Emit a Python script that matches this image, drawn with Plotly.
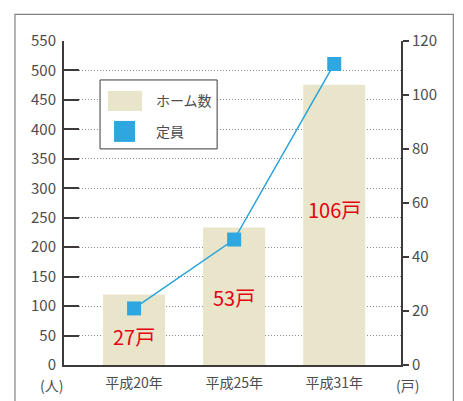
import plotly.graph_objects as go

# ---- data ----
categories = ["平成20年", "平成25年", "平成31年"]
home_counts = [26.1, 50.9, 103.8]          # bar heights (戸, right axis) as drawn
home_labels = ["27戸", "53戸", "106戸"]
capacity = [96, 213, 511]                  # 定員 (人, left axis)
left_ticks = list(range(0, 551, 50))
right_ticks = list(range(0, 121, 20))

FONT = "Noto Sans CJK JP"
DARK = "#3e3a39"
GRAY_TXT = "#4d4d4d"
BAR_COLOR = "#e8e5ca"
BLUE = "#2ea7e0"
RED = "#e60012"

W, H = 463, 401
L, R, T, B = 64, 62.3, 41, 35.7
pw = W - L - R
ph = H - T - B

def px(xp):
    return (xp - L) / pw

def py(yp):
    return (H - B - yp) / ph

xs = list(range(len(categories)))

fig = go.Figure()
# bars on primary y (right side, 戸)
fig.add_trace(go.Bar(
    x=xs, y=home_counts, yaxis="y", width=0.62,
    marker=dict(color=BAR_COLOR, line=dict(width=0)),
    name="ホーム数", showlegend=False, hoverinfo="skip",
))
# line on overlaying y2 (left side, 人) so it is drawn above the bars
fig.add_trace(go.Scatter(
    x=xs, y=capacity, yaxis="y2", mode="lines+markers",
    line=dict(color="#29a3dc", width=1.5),
    marker=dict(symbol="square", size=14, color=BLUE, line=dict(width=0)),
    name="定員", showlegend=False, hoverinfo="skip", cliponaxis=False,
))

# bar value labels
label_frac = [0.41, 0.49, 0.555]
for x, v, t, f in zip(xs, home_counts, home_labels, label_frac):
    fig.add_annotation(x=x, y=v * f, xref="x", yref="y", text=t, showarrow=False,
                       font=dict(family=FONT, size=20, color=RED),
                       xanchor="center", yanchor="middle")

# unit labels
fig.add_annotation(x=px(52), y=py(385), xref="paper", yref="paper", text="(人)",
                   showarrow=False, font=dict(family=FONT, size=14, color=GRAY_TXT),
                   xanchor="center", yanchor="middle")
fig.add_annotation(x=px(407), y=py(385), xref="paper", yref="paper", text="(戸)",
                   showarrow=False, font=dict(family=FONT, size=14, color=GRAY_TXT),
                   xanchor="center", yanchor="middle")

shapes = []
# outer frame
shapes.append(dict(type="rect", xref="paper", yref="paper",
                   x0=px(15), x1=px(453), y0=py(440), y1=py(14.3),
                   line=dict(color="#808080", width=1.2), fillcolor="rgba(0,0,0,0)",
                   layer="below"))
# legend box
shapes.append(dict(type="rect", xref="paper", yref="paper",
                   x0=px(100), x1=px(217), y0=py(149), y1=py(80),
                   line=dict(color=DARK, width=1), fillcolor="white", layer="above"))
shapes.append(dict(type="rect", xref="paper", yref="paper",
                   x0=px(108), x1=px(142), y0=py(111), y1=py(91),
                   line=dict(width=0), fillcolor=BAR_COLOR, layer="above"))
shapes.append(dict(type="rect", xref="paper", yref="paper",
                   x0=px(114), x1=px(135), y0=py(142), y1=py(121),
                   line=dict(width=0), fillcolor=BLUE, layer="above"))
fig.add_annotation(x=px(154), y=py(100.5), xref="paper", yref="paper", text="ホーム数",
                   showarrow=False, font=dict(family=FONT, size=14, color=GRAY_TXT),
                   xanchor="left", yanchor="middle")
fig.add_annotation(x=px(154), y=py(131.5), xref="paper", yref="paper", text="定員",
                   showarrow=False, font=dict(family=FONT, size=14, color=GRAY_TXT),
                   xanchor="left", yanchor="middle")

fig.update_layout(
    width=W, height=H,
    margin=dict(l=L, r=R, t=T, b=B, pad=0, autoexpand=False),
    paper_bgcolor="white", plot_bgcolor="white",
    font=dict(family=FONT, color=GRAY_TXT),
    showlegend=False,
    shapes=shapes,
    xaxis=dict(
        range=[-0.7, 2.667], tickvals=xs, ticktext=categories,
        showline=True, linecolor=DARK, linewidth=2, ticks="",
        showgrid=False, zeroline=False, fixedrange=True, automargin=False,
        tickfont=dict(family=FONT, size=14, color=GRAY_TXT),
        ticklabelstandoff=4,
    ),
    yaxis=dict(
        range=[0, 120], tickvals=right_ticks, side="right",
        ticks="outside", ticklen=6, tickwidth=2, tickcolor=DARK,
        showline=True, linecolor=DARK, linewidth=2, showgrid=False, zeroline=False,
        automargin=False,
        tickfont=dict(family=FONT, size=15, color=GRAY_TXT),
        ticklabelstandoff=0,
    ),
    yaxis2=dict(
        range=[0, 550], tickvals=left_ticks, overlaying="y", side="left",
        ticks="inside", ticklen=15,
        tickwidth=2, tickcolor=DARK, showline=True, linecolor=DARK, linewidth=2,
        showgrid=True, gridcolor="#8c8c8c", griddash="1px,2px", gridwidth=1,
        zeroline=False, automargin=False,
        tickfont=dict(family=FONT, size=15, color=GRAY_TXT),
        ticklabelstandoff=3,
    ),
)

fig.write_html(
    "out.html",
    config={"displayModeBar": False, "staticPlot": True},
    post_script="document.body.style.margin='0';document.body.style.padding='0';",
)
